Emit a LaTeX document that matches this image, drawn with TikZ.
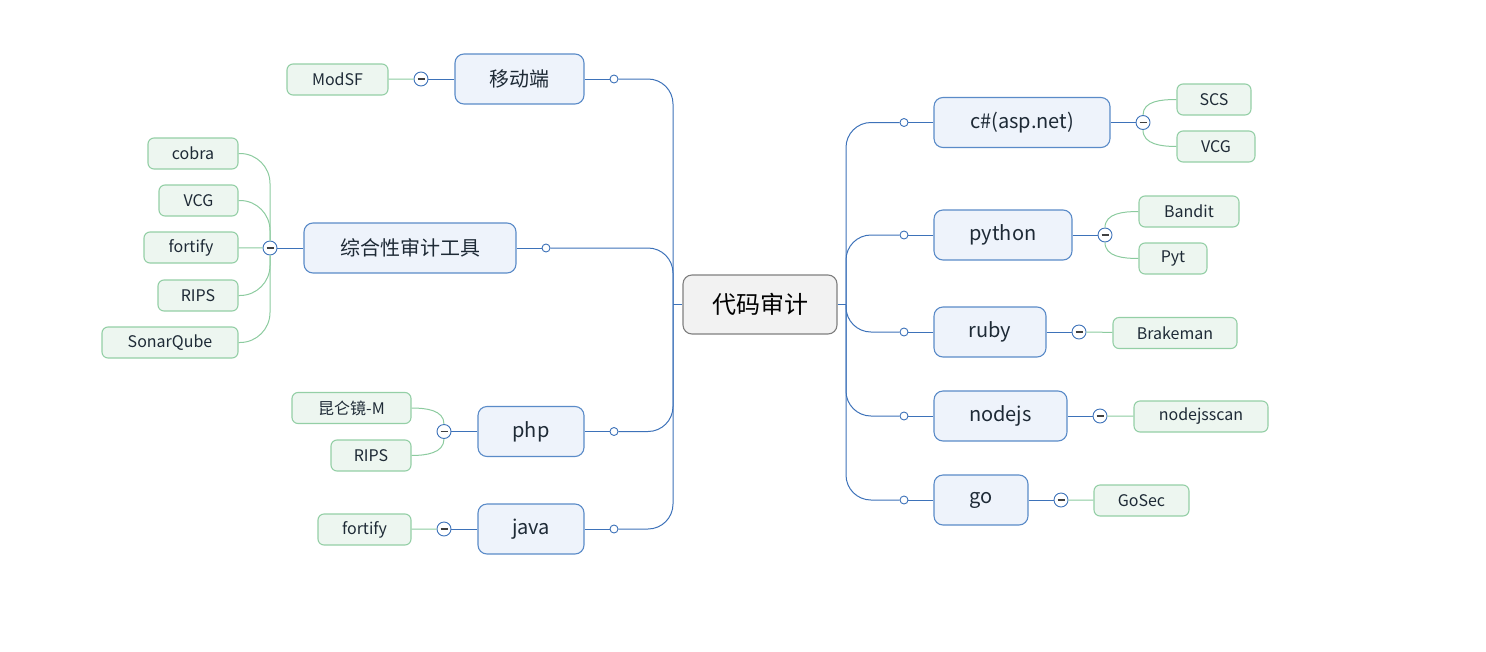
\documentclass[tikz,border=0pt]{standalone}
\usepackage{fontspec}
\setmainfont{Noto Sans CJK SC}
\definecolor{branchline}{HTML}{3D72B9}
\definecolor{branchfill}{HTML}{EEF3FB}
\definecolor{branchdraw}{HTML}{5A8BC8}
\definecolor{leafdraw}{HTML}{94CFA6}
\definecolor{leaffill}{HTML}{EDF6F0}
\definecolor{leafline}{HTML}{8CCB9F}
\definecolor{rootfill}{HTML}{F2F2F2}
\definecolor{rootdraw}{HTML}{7F7F7F}
\definecolor{inktext}{HTML}{1E2A36}
\tikzset{
  root/.style={draw=rootdraw,fill=rootfill,line width=1.1pt,rounded corners=9pt,
    minimum height=59pt,text=black,font=\fontsize{24}{28}\selectfont},
  branch/.style={draw=branchdraw,fill=branchfill,line width=1.1pt,rounded corners=9pt,
    minimum height=50pt,text=inktext,font=\fontsize{20}{24}\selectfont},
  leaf/.style={draw=leafdraw,fill=leaffill,line width=1.1pt,rounded corners=6pt,
    minimum height=31pt,text=inktext,font=\fontsize{16}{19}\selectfont},
  trunk/.style={draw=branchline,line width=1pt},
  twig/.style={draw=leafline,line width=1pt},
  knob/.style={circle,draw=branchline,fill=white,line width=0.9pt,
    minimum size=8pt,inner sep=0pt},
  fold/.style={circle,draw=branchline,fill=white,line width=0.9pt,
    minimum size=14pt,inner sep=0pt,
    path picture={\draw[line width=1.3pt,black!75]
      ([xshift=-3.5pt]path picture bounding box.center) --
      ([xshift=3.5pt]path picture bounding box.center);}},
}
\begin{document}
\begin{tikzpicture}[x=1pt,y=-1pt]
\useasboundingbox (0,0) rectangle (1486,651);
%% centre
\node[root,minimum width=154pt] (audit) at (760,304.5) {代码审计};
\coordinate (hubL) at (673,304.5);
\coordinate (hubR) at (846,304.5);
%% left branches
\node[branch,minimum width=129pt] (mobile) at (519.5,79) {移动端};
\node[branch,minimum width=212pt] (tools) at (410,248) {综合性审计工具};
\node[branch,minimum width=106pt] (php) at (531,431.5) {php};
\node[branch,minimum width=106pt] (java) at (531,529) {java};
\node[knob] (mobile_dot) at (614,79) {};
\node[knob] (tools_dot) at (546,248) {};
\node[knob] (php_dot) at (614,431.5) {};
\node[knob] (java_dot) at (614,529) {};
%% right branches
\node[branch,minimum width=176pt] (csharp) at (1022,122.5) {c\#(asp.net)};
\node[branch,minimum width=138pt] (python) at (1003,235) {python};
\node[branch,minimum width=112pt] (ruby) at (990,332) {ruby};
\node[branch,minimum width=133pt] (nodejs) at (1000.5,416) {nodejs};
\node[branch,minimum width=94pt] (go) at (981,500) {go};
\foreach \b/\y in {csharp/122.5,python/235,ruby/332,nodejs/416,go/500}
  \node[knob] (\b_dot) at (904,\y) {};
%% leaves
\node[leaf,minimum width=101pt] (modsf) at (337.5,79.5) {ModSF};
\node[leaf,minimum width=90pt] (cobra) at (193,153.5) {cobra};
\node[leaf,minimum width=79pt] (vcgL) at (198.5,200.5) {VCG};
\node[leaf,minimum width=94pt] (fortifyA) at (191,247.5) {fortify};
\node[leaf,minimum width=80pt] (ripsA) at (198,295.5) {RIPS};
\node[leaf,minimum width=136pt] (sonar) at (170,342.5) {SonarQube};
\node[leaf,minimum width=119pt] (kunlun) at (351.5,408) {昆仑镜-M};
\node[leaf,minimum width=80pt] (ripsB) at (371,455.5) {RIPS};
\node[leaf,minimum width=93pt] (fortifyB) at (364.5,529.5) {fortify};
\node[leaf,minimum width=74pt] (scs) at (1214,99.5) {SCS};
\node[leaf,minimum width=78pt] (vcgR) at (1216,146.5) {VCG};
\node[leaf,minimum width=100pt] (bandit) at (1189,211.5) {Bandit};
\node[leaf,minimum width=68pt] (pyt) at (1173,258.5) {Pyt};
\node[leaf,minimum width=124pt] (brakeman) at (1175,333) {Brakeman};
\node[leaf,minimum width=134pt] (njscan) at (1201,416.5) {nodejsscan};
\node[leaf,minimum width=95pt] (gosec) at (1141.5,500.5) {GoSec};
%% fold markers
\node[fold] (mobile_fold) at (421,79) {};
\node[fold] (tools_fold) at (270,248) {};
\node[fold] (php_fold) at (444,431.5) {};
\node[fold] (java_fold) at (444,529) {};
\node[fold] (csharp_fold) at (1143,122.5) {};
\node[fold] (python_fold) at (1105,235) {};
\node[fold] (ruby_fold) at (1079,332) {};
\node[fold] (nodejs_fold) at (1100,416) {};
\node[fold] (go_fold) at (1061,500) {};
%% trunk connectors
\draw[trunk] (hubL) -- (audit.west);
\draw[trunk] (audit.east) -- (hubR);
\foreach \b in {mobile,tools,php,java}{
  \draw[trunk] (\b) -- (\b_dot);
  \draw[trunk,rounded corners=25pt] (\b_dot) -| (hubL);
  \draw[trunk] (\b) -- (\b_fold);
}
\foreach \b in {csharp,python,ruby,nodejs,go}{
  \draw[trunk] (\b) -- (\b_dot);
  \draw[trunk,rounded corners=25pt] (hubR) |- (\b_dot);
  \draw[trunk] (\b) -- (\b_fold);
}
%% leaf connectors
\draw[twig] (mobile_fold) -- (modsf);
\draw[twig] (java_fold) -- (fortifyB);
\draw[twig] (ruby_fold) -- (brakeman);
\draw[twig] (nodejs_fold) -- (njscan);
\draw[twig] (go_fold) -- (gosec);
\draw[twig] (tools_fold) -- (fortifyA);
\foreach \l in {cobra,vcgL,ripsA,sonar}
  \draw[twig,rounded corners=30pt] (tools_fold) |- (\l.east);
\draw[twig] (php_fold.north) to[out=90,in=0] (kunlun.east);
\draw[twig] (php_fold.south) to[out=-90,in=0] (ripsB.east);
\draw[twig] (csharp_fold.north) to[out=90,in=180] (scs.west);
\draw[twig] (csharp_fold.south) to[out=-90,in=180] (vcgR.west);
\draw[twig] (python_fold.north) to[out=90,in=180] (bandit.west);
\draw[twig] (python_fold.south) to[out=-90,in=180] (pyt.west);
\end{tikzpicture}
\end{document}
